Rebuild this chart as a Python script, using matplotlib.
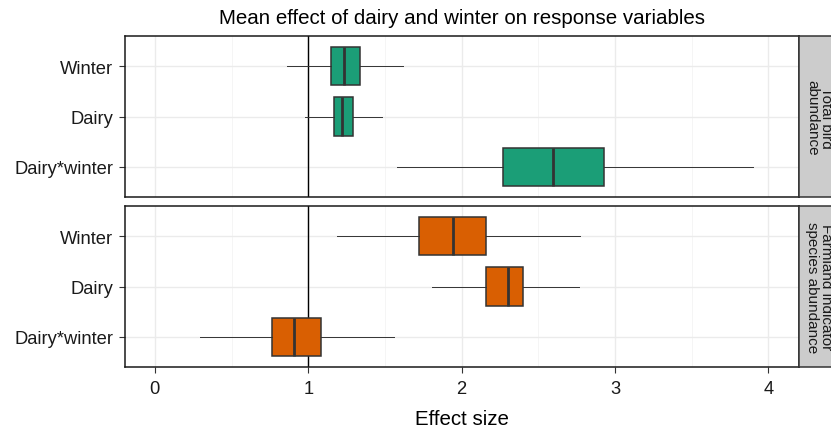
import matplotlib
matplotlib.use("Agg")
import matplotlib.pyplot as plt
import numpy as np

plt.rcParams['font.family'] = ['Liberation Sans', 'DejaVu Sans']

categories = ["Winter", "Dairy", "Dairy*winter"]
panels = ["Total bird\nabundance", "Farmland indicator\nspecies abundance"]
colors = ["#1B9E77", "#D95F02"]

# per panel: lower whisker, q1, median, q3, upper whisker (order as categories)
bird_lo = [0.864, 0.981, 1.578]
bird_q1 = [1.147, 1.167, 2.273]
bird_med = [1.234, 1.220, 2.593]
bird_q3 = [1.339, 1.292, 2.928]
bird_hi = [1.618, 1.484, 3.900]

farm_lo = [1.190, 1.810, 0.297]
farm_q1 = [1.723, 2.157, 0.763]
farm_med = [1.941, 2.302, 0.908]
farm_q3 = [2.160, 2.401, 1.083]
farm_hi = [2.774, 2.762, 1.560]

xticks = [0, 1, 2, 3, 4]

data = [
    (bird_lo, bird_q1, bird_med, bird_q3, bird_hi),
    (farm_lo, farm_q1, farm_med, farm_q3, farm_hi),
]

W, H = 831, 431
fig = plt.figure(figsize=(W / 100, H / 100), dpi=100)

def fx(p):
    return p / W

def fy(p):
    return 1 - p / H

left, right = 124.5, 798.6
panel_y = [(37.3, 197.7), (207.3, 367.7)]
strip_right = 839

edge = "#333333"
for i, (ytop, ybot) in enumerate(panel_y):
    ax = fig.add_axes([fx(left), fy(ybot), fx(right - left), (ybot - ytop) / H])
    lo, q1, med, q3, hi = data[i]
    n = len(categories)
    positions = list(range(n, 0, -1))
    stats = []
    for k in range(n):
        stats.append(dict(whislo=lo[k], q1=q1[k], med=med[k], q3=q3[k], whishi=hi[k], label=categories[k]))
    ax.bxp(stats, positions=positions, widths=0.76, orientation='horizontal',
           patch_artist=True, showcaps=False, showfliers=False,
           boxprops=dict(facecolor=colors[i], edgecolor=edge, linewidth=1.1),
           medianprops=dict(color=edge, linewidth=2.0),
           whiskerprops=dict(color=edge, linewidth=0.7), zorder=3)
    ax.axvline(1, color="black", linewidth=1.0, zorder=2)
    ax.set_xlim(-0.198, 4.197)
    ax.set_ylim(0.4, n + 0.6)
    ax.set_yticks(positions)
    ax.set_yticklabels(categories, fontsize=13.2, color="#1a1a1a")
    ax.set_xticks(xticks)
    ax.set_xticks([0.5, 1.5, 2.5, 3.5], minor=True)
    ax.grid(True, which='major', color="#EBEBEB", linewidth=1.0, zorder=0)
    ax.grid(True, which='minor', axis='x', color="#F4F4F4", linewidth=0.6, zorder=0)
    ax.set_axisbelow(True)
    ax.tick_params(axis='both', which='major', length=4, width=0.8, color="#333333", pad=4)
    ax.tick_params(axis='x', which='minor', length=0)
    for s in ax.spines.values():
        s.set_color("#1a1a1a")
        s.set_linewidth(1.1)
    if i == 0:
        ax.tick_params(axis='x', labelbottom=False, length=0)
    else:
        ax.set_xticklabels([str(t) for t in xticks], fontsize=13.2, color="#1a1a1a")
        ax.tick_params(axis='x', pad=5.5)
    # strip
    sax = fig.add_axes([fx(right), fy(ybot), fx(strip_right - right), (ybot - ytop) / H])
    sax.set_facecolor("#CCCCCC")
    sax.set_xticks([])
    sax.set_yticks([])
    for s in sax.spines.values():
        s.set_color("#333333")
        s.set_linewidth(1.1)
    sax.text(0.5, 0.5, panels[i], rotation=-90, ha='center', va='center',
             fontsize=11, color="#1a1a1a", transform=sax.transAxes,
             multialignment='center', linespacing=0.95)

fig.text(fx((left + right) / 2), fy(19), "Mean effect of dairy and winter on response variables",
         ha='center', va='center', fontsize=14.8, color="black")
fig.text(fx((left + right) / 2), fy(420), "Effect size",
         ha='center', va='center', fontsize=14.8, color="black")

fig.savefig("out.png", dpi=100)
